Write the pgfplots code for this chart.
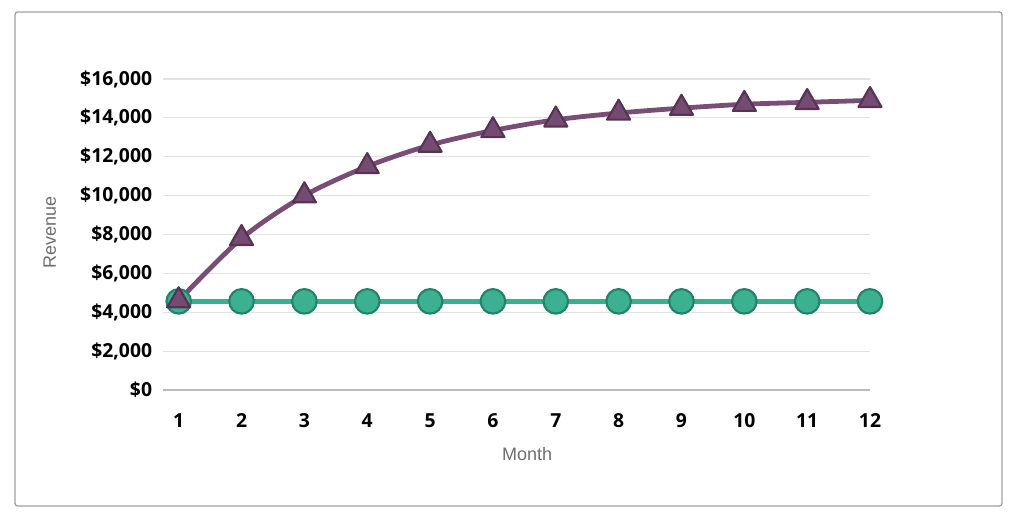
\documentclass[border=0pt]{standalone}
\usepackage{pgfplots}
\pgfplotsset{compat=1.18}
\usepackage{fontspec}
\newfontfamily\opensans{Open Sans}
\newfontfamily\arialf{Liberation Sans}
\definecolor{purpleline}{HTML}{7A4D77}
\definecolor{purplefill}{HTML}{764B73}
\definecolor{purpleedge}{HTML}{553452}
\definecolor{greenline}{HTML}{3AB08E}
\definecolor{greenfill}{HTML}{3BB191}
\definecolor{greenedge}{HTML}{24826B}
\definecolor{gridc}{HTML}{E2E2E2}
\definecolor{axisc}{HTML}{BBBBBB}
\definecolor{framec}{HTML}{A0A0A0}
\definecolor{labelc}{HTML}{6E6E6E}
\begin{document}
\begin{tikzpicture}
\useasboundingbox (0,0) rectangle (763.5pt,390pt);
\draw[framec, line width=1pt, rounded corners=2pt] (11.25pt,10.5pt) rectangle (751.5pt,381pt);
\begin{axis}[
  at={(122.25pt,97.5pt)}, anchor=south west,
  scale only axis, width=530.25pt, height=233.25pt,
  xmin=0.75, xmax=12, ymin=0, ymax=16000,
  clip=false,
  scaled y ticks=false,
  axis x line*=bottom, axis y line*=left,
  x axis line style={-, color=axisc, line width=1pt},
  y axis line style={draw=none},
  major tick length=0pt,
  ymajorgrids=true,
  major grid style={color=gridc, line width=0.8pt},
  xtick={1,2,3,4,5,6,7,8,9,10,11,12},
  ytick={0,2000,4000,6000,8000,10000,12000,14000,16000},
  yticklabels={{\$0},{\$2,000},{\$4,000},{\$6,000},{\$8,000},{\$10,000},{\$12,000},{\$14,000},{\$16,000}},
  /pgf/number format/assume math mode=true,
  ticklabel style={font=\fontsize{14.5}{17}\selectfont\opensans\bfseries, text=black},
  yticklabel style={anchor=east, inner sep=0pt, xshift=-8pt},
  xticklabel style={anchor=base, inner sep=0pt, yshift=-28pt},
  xlabel={Month}, ylabel={Revenue},
  label style={font=\fontsize{13.5}{16}\selectfont\arialf, text=labelc},
  xlabel style={at={(axis description cs:0.515,-0.206)}, anchor=center},
  ylabel style={at={(axis description cs:-0.160,0.508)}, anchor=center},
]
\addplot[greenline, line width=3.6pt, mark=*, mark size=9.2pt,
  mark options={fill=greenfill, draw=greenedge, line width=1.6pt}]
  coordinates {(1,4560)(2,4560)(3,4560)(4,4560)(5,4560)(6,4560)(7,4560)(8,4560)(9,4560)(10,4560)(11,4560)(12,4560)};
\addplot[purpleline, line width=3.6pt, smooth, mark=triangle*, mark size=10pt,
  mark options={fill=purplefill, draw=purpleedge, line width=1.6pt, line join=round}]
  coordinates {(1,4600)(2,7800)(3,10000)(4,11500)(5,12600)(6,13350)(7,13900)(8,14250)(9,14500)(10,14700)(11,14800)(12,14900)};
\end{axis}
\end{tikzpicture}
\end{document}
